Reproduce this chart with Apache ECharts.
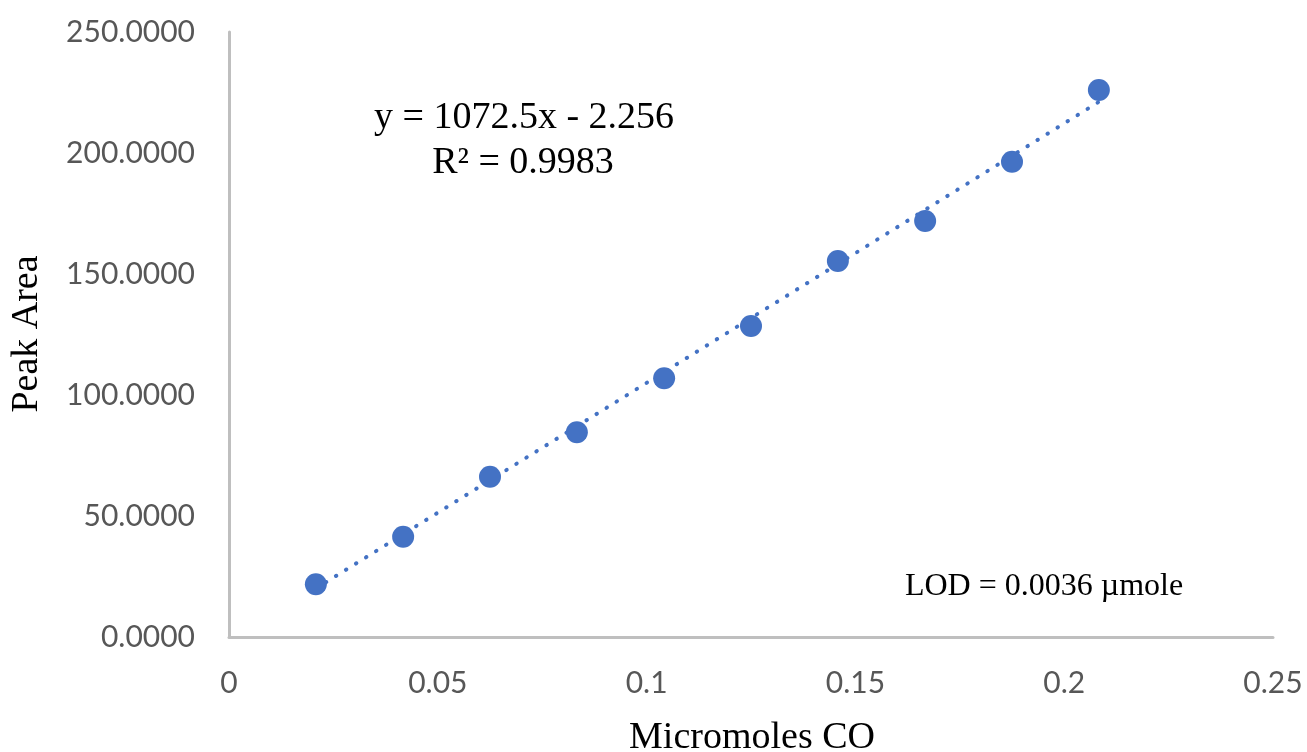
<!DOCTYPE html>
<html>
<head>
<meta charset="utf-8">
<script src="https://cdn.jsdelivr.net/npm/echarts@6/dist/echarts.min.js"></script>
<style>
  html, body { margin: 0; padding: 0; background: #ffffff; }
  #chart { width: 1307px; height: 752px; }
</style>
</head>
<body>
<div id="chart"></div>
<script>
// Calibration data: amount of CO injected vs. integrated peak area
const micromolesCO = [0.0208, 0.0417, 0.0625, 0.0833, 0.1042, 0.1250, 0.1458, 0.1667, 0.1875, 0.2083];
const peakArea     = [21.8, 41.4, 66.2, 84.6, 106.9, 128.5, 155.4, 171.9, 196.4, 226.0];

// Linear fit reported for the calibration
const fitSlope = 1072.5;
const fitIntercept = -2.256;
const fitR2 = 0.9983;
const lodText = 'LOD = 0.0036 \u00b5mole';

// Axis tick labels
const xTickValues = [0, 0.05, 0.1, 0.15, 0.2, 0.25];
const xTickLabels = ['0', '0.05', '0.1', '0.15', '0.2', '0.25'];
const yTickValues = [0, 50, 100, 150, 200, 250];
const yTickLabels = ['0.0000', '50.0000', '100.0000', '150.0000', '200.0000', '250.0000'];

const points = micromolesCO.map((x, i) => [x, peakArea[i]]);
const xFitMin = Math.min(...micromolesCO);
const xFitMax = Math.max(...micromolesCO);
const fitLine = [xFitMin, xFitMax].map(x => [x, fitSlope * x + fitIntercept]);

const eqText = 'y = ' + fitSlope + 'x - ' + Math.abs(fitIntercept);
const r2Text = 'R\u00b2 = ' + fitR2;

function tickLabel(values, labels) {
  return function (v) {
    for (let i = 0; i < values.length; i++) {
      if (Math.abs(values[i] - v) < 1e-9) return labels[i];
    }
    return '';
  };
}

const axisGray = '#BFBFBF';
const labelGray = '#575757';
const sansFont = 'Lato, "Open Sans", sans-serif';
const serifFont = '"Liberation Serif", "DejaVu Serif", serif';

const chart = echarts.init(document.getElementById('chart'), null, { renderer: 'canvas' });

chart.setOption({
  animation: false,
  backgroundColor: '#ffffff',
  grid: { left: 229, right: 34, top: 32, bottom: 115 },
  xAxis: {
    type: 'value',
    min: 0,
    max: 0.25,
    interval: 0.05,
    axisLine: { show: true, onZero: false, lineStyle: { color: axisGray, width: 3 } },
    axisTick: { show: false },
    splitLine: { show: false },
    axisLabel: {
      margin: 31,
      color: labelGray,
      fontFamily: sansFont,
      fontSize: 30,
      formatter: tickLabel(xTickValues, xTickLabels)
    }
  },
  yAxis: {
    type: 'value',
    min: 0,
    max: 250,
    interval: 50,
    axisLine: { show: true, lineStyle: { color: axisGray, width: 3 } },
    axisTick: { show: false },
    splitLine: { show: false },
    axisLabel: {
      margin: 34,
      color: labelGray,
      fontFamily: sansFont,
      fontSize: 30,
      formatter: tickLabel(yTickValues, yTickLabels)
    }
  },
  series: [
    {
      name: 'Linear fit',
      type: 'line',
      data: fitLine,
      showSymbol: false,
      symbol: 'none',
      z: 1,
      lineStyle: { color: '#4472C4', width: 4, type: [0.5, 11.3], cap: 'round' }
    },
    {
      name: 'Peak Area',
      type: 'scatter',
      data: points,
      symbol: 'circle',
      symbolSize: 22,
      z: 2,
      itemStyle: { color: '#4472C4', opacity: 1 }
    }
  ],
  graphic: [
    {
      type: 'text',
      x: 524, y: 118,
      style: {
        text: eqText, fill: '#000000',
        font: '38px ' + serifFont,
        textAlign: 'center', textVerticalAlign: 'middle'
      }
    },
    {
      type: 'text',
      x: 523, y: 163,
      style: {
        text: r2Text, fill: '#000000',
        font: '38px ' + serifFont,
        textAlign: 'center', textVerticalAlign: 'middle'
      }
    },
    {
      type: 'text',
      x: 1044, y: 587,
      style: {
        text: lodText, fill: '#000000',
        font: '32px ' + serifFont,
        textAlign: 'center', textVerticalAlign: 'middle'
      }
    },
    {
      type: 'text',
      x: 752, y: 738,
      style: {
        text: 'Micromoles CO', fill: '#000000',
        font: '38px ' + serifFont,
        textAlign: 'center', textVerticalAlign: 'middle'
      }
    },
    {
      type: 'text',
      x: 27, y: 334,
      rotation: Math.PI / 2,
      style: {
        text: 'Peak Area', fill: '#000000',
        font: '38px ' + serifFont,
        textAlign: 'center', textVerticalAlign: 'middle'
      }
    }
  ]
});
</script>
</body>
</html>
